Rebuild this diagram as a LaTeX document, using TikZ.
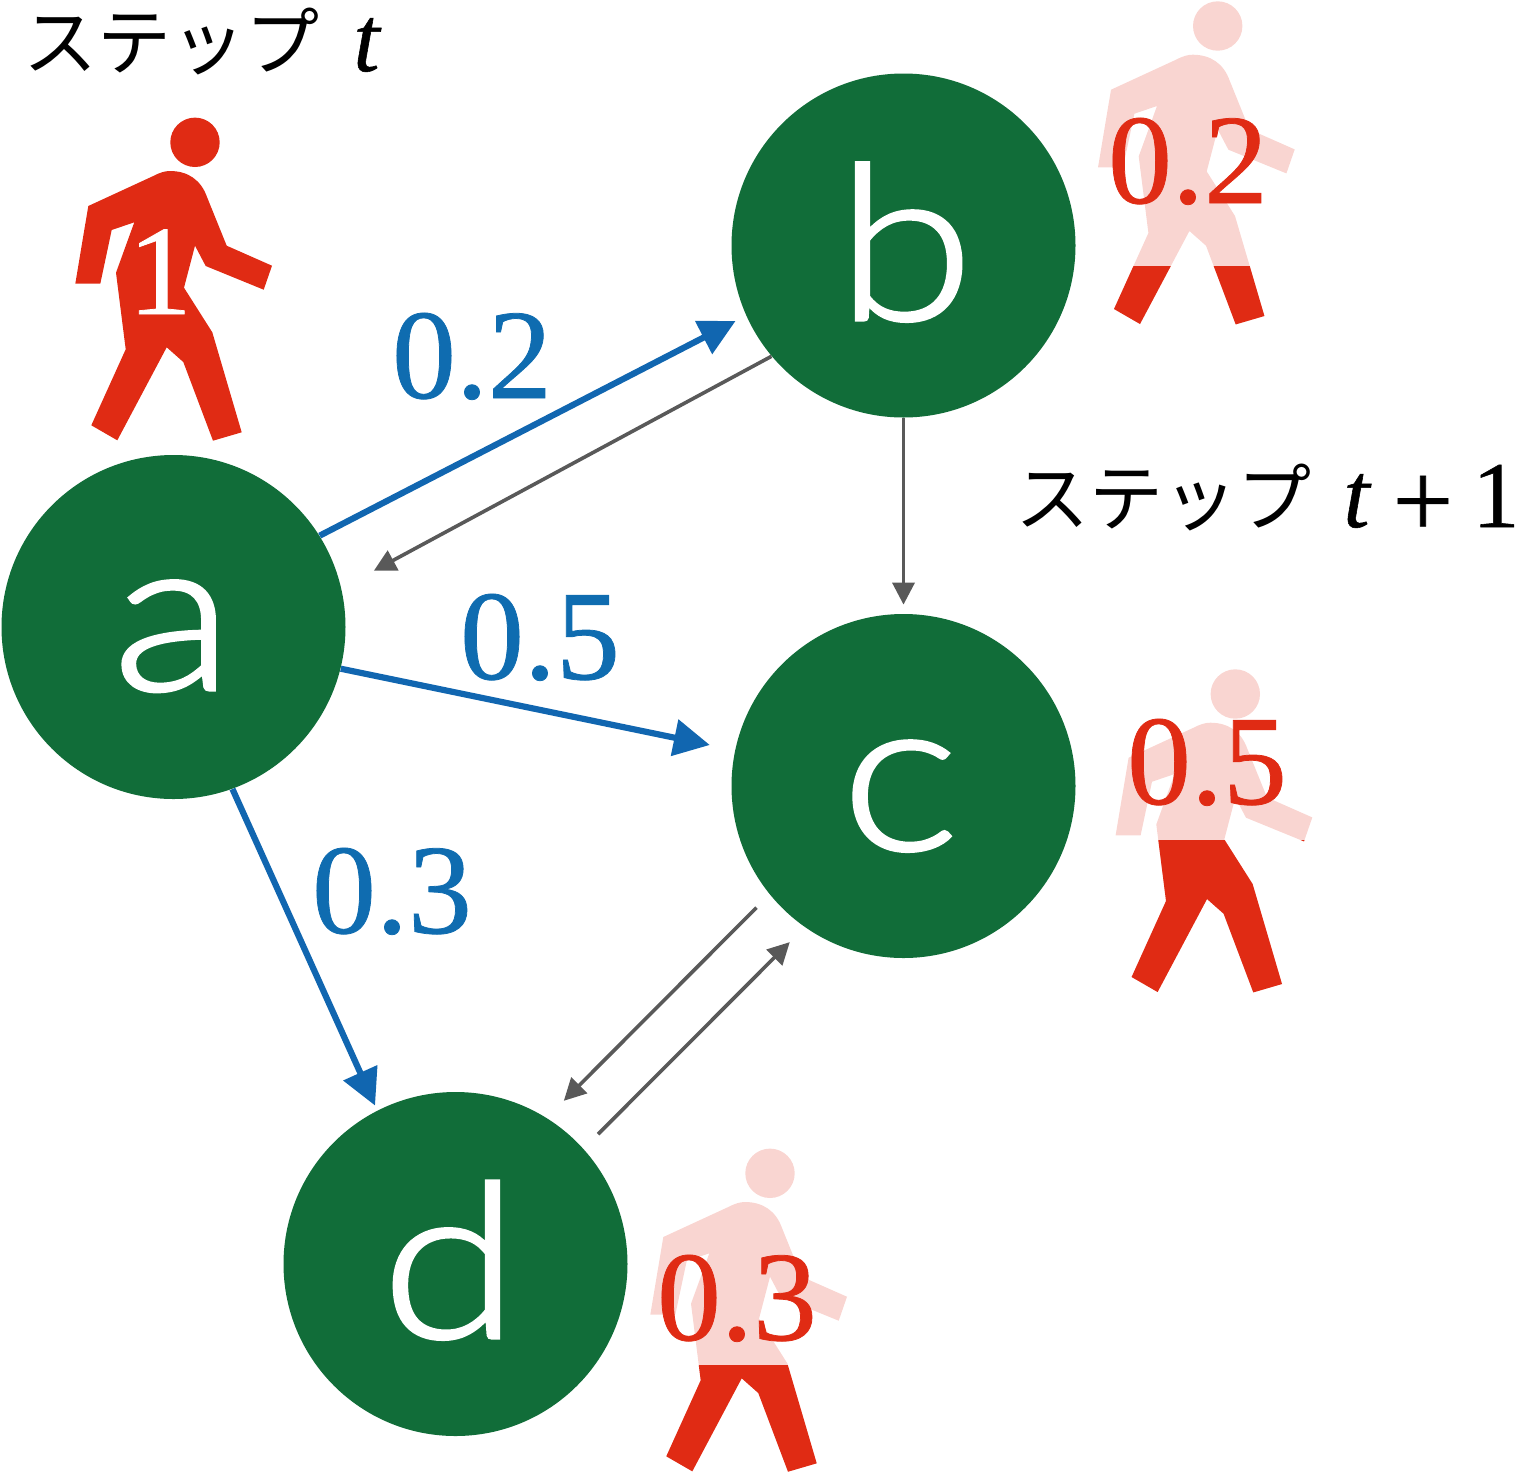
\documentclass[tikz,border=0pt]{standalone}
\usepackage{fontspec}
\setmainfont{Liberation Serif}[FakeBold=0.6]
\newfontfamily\cjkfont{Noto Sans CJK JP}
\newfontfamily\letterfont{Lato Light}[FakeStretch=1.16,FakeBold=1.5]
\usetikzlibrary{arrows.meta}
\definecolor{walkred}{HTML}{E02B14}
\definecolor{walklight}{HTML}{F9D5D1}
\definecolor{nodegreen}{HTML}{116D39}
\definecolor{labelblue}{HTML}{0F6CB0}
\definecolor{arrowblue}{HTML}{1166B0}
\definecolor{arrowgray}{HTML}{595959}
\newcommand{\walkerbody}{
  (195,142.3) circle[radius=24.7]
  (88.3,206) -- (153.3,176) .. controls (160,172.5) and (165,171) .. (170,171)
  .. controls (188,171) and (201,180) .. (207,197)
  -- (226.7,245.7) -- (272,265.7) -- (263.7,289.7) -- (205.7,266) -- (195,245.7)
  -- (184,287.7) -- (212.3,332.3) -- (241.7,432.3) -- (213,440.7) -- (183.3,362)
  -- (166.7,347.3) -- (117.3,440.3) -- (91.3,425.3) -- (125.7,349.3) -- (116,272.7)
  -- (134.3,222.3) -- (111.7,230) -- (100.3,283.7) -- (75.3,283.7) -- cycle
}
\tikzset{
  x=0.5pt,y=-0.5pt,
  place/.style={circle,fill=nodegreen,draw=none,minimum size=172pt,inner sep=0pt},
  letter/.style={anchor=base,inner sep=0pt,text=white,font=\letterfont\fontsize{108}{108}\selectfont},
  numblue/.style={anchor=base,inner sep=0pt,text=labelblue,font=\fontsize{64}{64}\selectfont},
  numred/.style={anchor=base,inner sep=0pt,text=walkred,font=\fontsize{64}{64}\selectfont},
  numwhite/.style={anchor=base,inner sep=0pt,text=white,font=\fontsize{64}{64}\selectfont},
  kana/.style={anchor=base west,inner sep=0pt,font=\cjkfont\fontsize{37}{37}\selectfont},
  steplabel/.style={anchor=base west,inner sep=0pt,font=\fontsize{47}{47}\selectfont},
  bluearrow/.style={draw=arrowblue,line width=3.1pt,-{Triangle[length=18pt,width=18pt]}},
  grayarrow/.style={draw=arrowgray,line width=1.8pt,-{Triangle[length=11pt,width=11pt]}}
}
\begin{document}
\begin{tikzpicture}
\useasboundingbox (0,0) rectangle (1515,1474);
% walker at a
\fill[walkred] \walkerbody;
% walker at b
\begin{scope}[shift={(1022.7,-116.3)}]
  \fill[walklight] \walkerbody;
  \begin{scope}
    \clip (0,382.3) rectangle (300,600);
    \fill[walkred] \walkerbody;
  \end{scope}
\end{scope}
% walker at c
\begin{scope}[shift={(1040.3,551.7)}]
  \fill[walklight] \walkerbody;
  \begin{scope}
    \clip (0,288.3) rectangle (300,600);
    \fill[walkred] \walkerbody;
  \end{scope}
\end{scope}
% walker at d
\begin{scope}[shift={(575,1031)}]
  \fill[walklight] \walkerbody;
  \begin{scope}
    \clip (0,334) rectangle (300,600);
    \fill[walkred] \walkerbody;
  \end{scope}
\end{scope}
% places
\node[place] (a) at (173.5,627) {};
\node[place] (b) at (903.5,245.5) {};
\node[place] (c) at (903.5,786) {};
\node[place] (d) at (455.5,1264) {};
\node[letter] (la) at (173,690) {a};
\node[letter] (lb) at (905,320) {b};
\node[letter] (lc) at (900,850) {c};
\node[letter] (ld) at (450,1338) {d};
% connectors
\draw[bluearrow,shorten >=5.9pt] (a.32.2) -- (b.204.05);
\draw[bluearrow,shorten >=12.8pt] (a.-14.2) -- (c.168.3);
\draw[bluearrow,shorten >=2.65pt] (a.-70.3) -- (d.117.1);
\draw[grayarrow,shorten >=18.35pt] (b.220.3) -- (a.13.7);
\draw[grayarrow,shorten >=4.5pt] (b.south) -- (c.north);
\draw[grayarrow,shorten <=9.25pt,shorten >=12pt] (c.219) -- (d.58.1);
\draw[grayarrow,shorten <=10.25pt,shorten >=10.5pt] (d.42.1) -- (c.235);
% labels
\node[numblue] (p1) at (472,398) {0.2};
\node[numblue] (p2) at (540,679) {0.5};
\node[numblue] (p3) at (392,933) {0.3};
\node[numred] (q1) at (1188,203) {0.2};
\node[numred] (q2) at (1207,804) {0.5};
\node[numred] (q3) at (737,1340) {0.3};
\node[numwhite] (one) at (160,314) {1};
\node[kana] (s1) at (23,69) {ステップ};
\node[steplabel] (t1) at (353,71) {\itshape t};
\node[kana] (s2) at (1015,525) {ステップ};
\node[steplabel] (t2) at (1343,527) {\itshape t\hspace{11.5pt}\upshape\fontsize{54}{54}\selectfont\raisebox{-5pt}{+}\hspace{9.5pt}\fontsize{47}{47}\selectfont 1};
\end{tikzpicture}
\end{document}
